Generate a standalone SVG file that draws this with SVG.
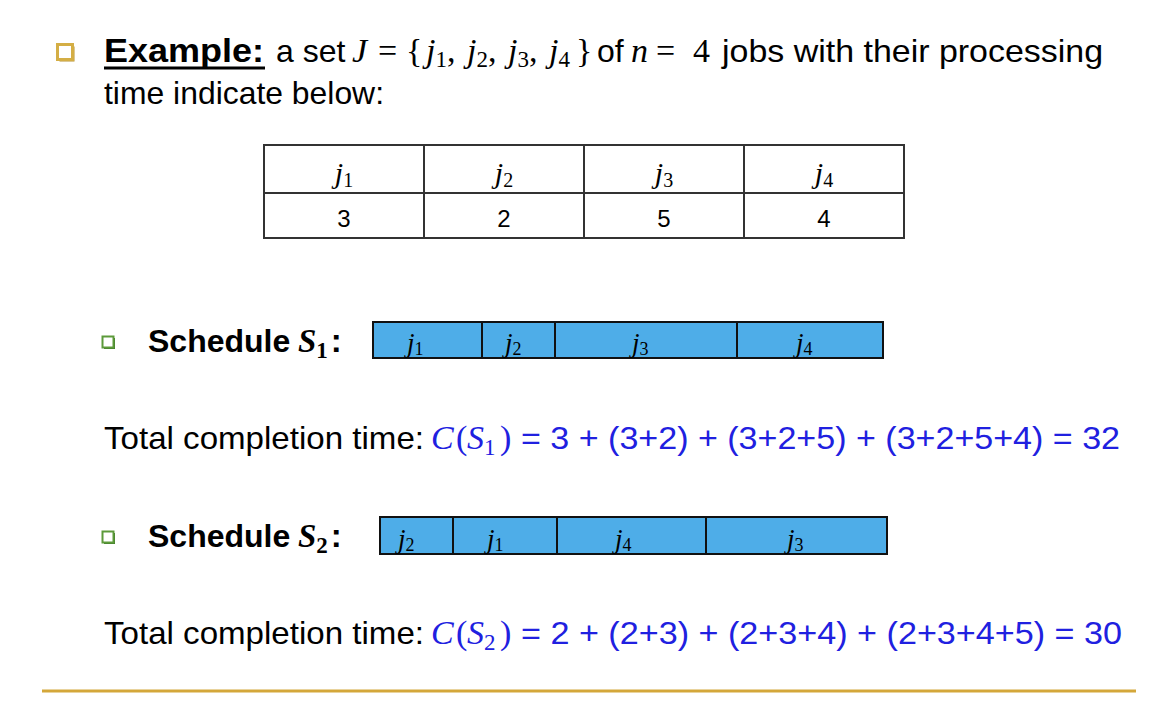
<svg xmlns="http://www.w3.org/2000/svg" width="1162" height="716" viewBox="0 0 1162 716">
<defs>
<style>
.sans{font-family:"Liberation Sans",Arial,sans-serif;fill:#000}
.math{font-family:"Liberation Serif","Times New Roman",serif}
.it{font-style:italic}
.blue{fill:#2020E0}
.bar{fill:#4EADE8;stroke:#111;stroke-width:2}
.div{stroke:#111;stroke-width:2}
.tbl{fill:none;stroke:#333;stroke-width:2}
</style>
</defs>
<rect width="1162" height="716" fill="#fff"/>

<g id="title">
  <rect x="59.5" y="46.5" width="15" height="15" fill="#B8922E"/>
  <rect x="57.5" y="44.5" width="15" height="15" fill="#fff" stroke="#D4AE45" stroke-width="3"/>
  <text class="sans" x="104" y="62" font-size="34" font-weight="bold" textLength="160" lengthAdjust="spacingAndGlyphs">Example:</text>
  <line x1="104" y1="68" x2="265" y2="68" stroke="#000" stroke-width="3"/>
  <text class="sans" x="276" y="62" font-size="32">a set</text>
  <g class="math" font-size="34">
    <text x="352" y="62" class="it">J</text>
    <text x="378" y="62">=</text>
    <text x="406" y="62">{</text>
    <text x="426" y="62"><tspan class="it">j</tspan><tspan font-size="23" dy="5">1</tspan><tspan dy="-5">,</tspan></text>
    <text x="467" y="62"><tspan class="it">j</tspan><tspan font-size="23" dy="5">2</tspan><tspan dy="-5">,</tspan></text>
    <text x="508" y="62"><tspan class="it">j</tspan><tspan font-size="23" dy="5">3</tspan><tspan dy="-5">,</tspan></text>
    <text x="549" y="62"><tspan class="it">j</tspan><tspan font-size="23" dy="5">4</tspan></text>
    <text x="576" y="62">}</text>
  </g>
  <text class="sans" x="597" y="62" font-size="32">of</text>
  <g class="math" font-size="34">
    <text x="631" y="62" class="it">n</text>
    <text x="656" y="62">=</text>
    <text x="693" y="62">4</text>
  </g>
  <text class="sans" x="722" y="62" font-size="32" textLength="381" lengthAdjust="spacingAndGlyphs">jobs with their processing</text>
  <text class="sans" x="104" y="104" font-size="32" textLength="280" lengthAdjust="spacingAndGlyphs">time indicate below:</text>
</g>

<g id="table">
  <rect class="tbl" x="264" y="145" width="640" height="93"/>
  <line class="tbl" x1="264" y1="193" x2="904" y2="193"/>
  <line class="tbl" x1="424" y1="145" x2="424" y2="238"/>
  <line class="tbl" x1="584" y1="145" x2="584" y2="238"/>
  <line class="tbl" x1="744" y1="145" x2="744" y2="238"/>
  <g class="math" font-size="30" text-anchor="middle">
    <text x="344" y="183"><tspan class="it">j</tspan><tspan font-size="20" dy="4">1</tspan></text>
    <text x="504" y="183"><tspan class="it">j</tspan><tspan font-size="20" dy="4">2</tspan></text>
    <text x="664" y="183"><tspan class="it">j</tspan><tspan font-size="20" dy="4">3</tspan></text>
    <text x="824" y="183"><tspan class="it">j</tspan><tspan font-size="20" dy="4">4</tspan></text>
  </g>
  <g class="sans" font-size="24" text-anchor="middle">
    <text x="344" y="227">3</text>
    <text x="504" y="227">2</text>
    <text x="664" y="227">5</text>
    <text x="824" y="227">4</text>
  </g>
</g>

<g id="schedule1">
  <rect x="104" y="338" width="11" height="11" fill="#3F7A28"/>
  <rect x="102.5" y="336.5" width="11" height="11" fill="#fff" stroke="#5C9A3A" stroke-width="2"/>
  <text class="sans" x="148" y="352" font-size="32" font-weight="bold">Schedule</text>
  <text x="298" y="352" font-size="33" font-weight="bold"><tspan class="math it">S</tspan><tspan class="math" font-size="23" dy="6">1</tspan><tspan class="sans" dy="-6" dx="3">:</tspan></text>
  <rect class="bar" x="373" y="322" width="510" height="36"/>
  <line class="div" x1="482" y1="322" x2="482" y2="358"/>
  <line class="div" x1="555" y1="322" x2="555" y2="358"/>
  <line class="div" x1="737" y1="322" x2="737" y2="358"/>
  <g class="math" font-size="27">
    <text x="407" y="352"><tspan class="it">j</tspan><tspan font-size="18" dy="3">1</tspan></text>
    <text x="505" y="352"><tspan class="it">j</tspan><tspan font-size="18" dy="3">2</tspan></text>
    <text x="632" y="352"><tspan class="it">j</tspan><tspan font-size="18" dy="3">3</tspan></text>
    <text x="796" y="352"><tspan class="it">j</tspan><tspan font-size="18" dy="3">4</tspan></text>
  </g>
</g>

<g id="total1">
  <text class="sans" x="104" y="449" font-size="32" textLength="320" lengthAdjust="spacingAndGlyphs">Total completion time:</text>
  <g class="math blue" font-size="34">
    <text x="431" y="449" class="it">C</text>
    <text x="456" y="449">(</text>
    <text x="467" y="449"><tspan class="it">S</tspan><tspan font-size="23" dy="6">1</tspan></text>
    <text x="500" y="449">)</text>
  </g>
  <text class="sans blue" x="521" y="449" font-size="32" textLength="599" lengthAdjust="spacingAndGlyphs">= 3 + (3+2) + (3+2+5) + (3+2+5+4) = 32</text>
</g>

<g id="schedule2">
  <rect x="104" y="533" width="11" height="11" fill="#3F7A28"/>
  <rect x="102.5" y="531.5" width="11" height="11" fill="#fff" stroke="#5C9A3A" stroke-width="2"/>
  <text class="sans" x="148" y="547" font-size="32" font-weight="bold">Schedule</text>
  <text x="298" y="547" font-size="33" font-weight="bold"><tspan class="math it">S</tspan><tspan class="math" font-size="23" dy="6">2</tspan><tspan class="sans" dy="-6" dx="3">:</tspan></text>
  <rect class="bar" x="380" y="517" width="507" height="37"/>
  <line class="div" x1="453" y1="517" x2="453" y2="554"/>
  <line class="div" x1="557" y1="517" x2="557" y2="554"/>
  <line class="div" x1="706" y1="517" x2="706" y2="554"/>
  <g class="math" font-size="27">
    <text x="398" y="548"><tspan class="it">j</tspan><tspan font-size="18" dy="3">2</tspan></text>
    <text x="487" y="548"><tspan class="it">j</tspan><tspan font-size="18" dy="3">1</tspan></text>
    <text x="615" y="548"><tspan class="it">j</tspan><tspan font-size="18" dy="3">4</tspan></text>
    <text x="787" y="548"><tspan class="it">j</tspan><tspan font-size="18" dy="3">3</tspan></text>
  </g>
</g>

<g id="total2">
  <text class="sans" x="104" y="644" font-size="32" textLength="320" lengthAdjust="spacingAndGlyphs">Total completion time:</text>
  <g class="math blue" font-size="34">
    <text x="431" y="644" class="it">C</text>
    <text x="456" y="644">(</text>
    <text x="467" y="644"><tspan class="it">S</tspan><tspan font-size="23" dy="6">2</tspan></text>
    <text x="500" y="644">)</text>
  </g>
  <text class="sans blue" x="521" y="644" font-size="32" textLength="601" lengthAdjust="spacingAndGlyphs">= 2 + (2+3) + (2+3+4) + (2+3+4+5) = 30</text>
</g>

<line x1="42" y1="691" x2="1136" y2="691" stroke="#D4A73A" stroke-width="3"/>
</svg>
